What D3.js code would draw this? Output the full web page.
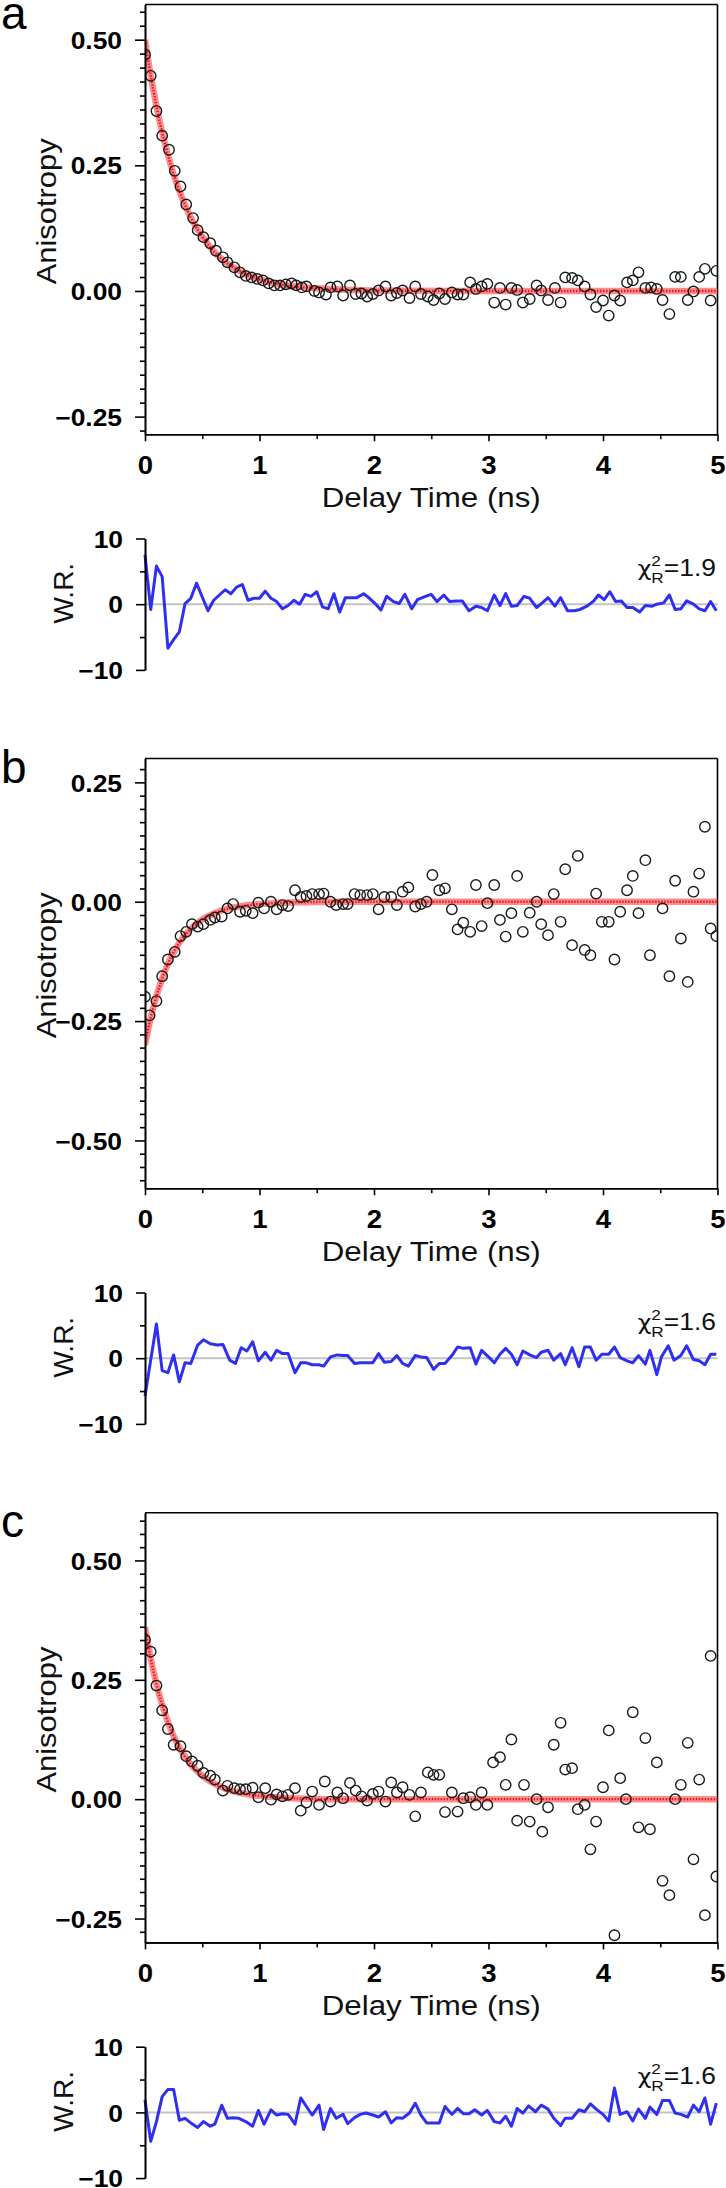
<!DOCTYPE html>
<html><head><meta charset="utf-8">
<script src="https://cdn.jsdelivr.net/npm/d3@7"></script>
<style>body{margin:0;background:#fff}svg{display:block}</style>
</head><body>
<svg id="chart" width="726" height="2188"></svg>
<script>
// ---------- DATA ----------
const panelLetters = ["a", "b", "c"];
const chiValues = ["1.9", "1.6", "1.6"];
const xTickValues = [0, 1, 2, 3, 4, 5];
const xMinorTicks = [0.5, 1.5, 2.5, 3.5, 4.5];
const yTicksA = [-0.25, 0, 0.25, 0.5];
const yTicksB = [-0.5, -0.25, 0, 0.25];
const yTicksC = [-0.25, 0, 0.25, 0.5];
const wrTicks = [-10, 0, 10];
const wrMinor = [-5, 5];

const timeA = [0,0.05,0.10,0.15,0.21,0.26,0.31,0.36,0.42,0.46,0.51,0.57,0.62,0.68,0.72,0.78,0.83,0.88,0.93,0.98,1.03,1.08,1.13,1.18,1.23,1.28,1.32,1.37,1.41,1.48,1.52,1.58,1.62,1.68,1.73,1.79,1.84,1.89,1.94,1.99,2.04,2.10,2.15,2.20,2.25,2.31,2.36,2.41,2.47,2.52,2.57,2.62,2.68,2.73,2.78,2.84,2.89,2.94,2.99,3.05,3.10,3.15,3.20,3.25,3.30,3.36,3.42,3.46,3.52,3.58,3.63,3.67,3.73,3.78,3.84,3.89,3.94,4.00,4.05,4.10,4.15,4.21,4.26,4.31,4.37,4.42,4.47,4.52,4.58,4.63,4.68,4.74,4.79,4.84,4.89,4.94,4.99];
const anisoA = [0.47,0.428,0.358,0.309,0.281,0.239,0.208,0.172,0.145,0.121,0.107,0.095,0.080,0.067,0.057,0.047,0.037,0.030,0.027,0.024,0.021,0.015,0.011,0.011,0.013,0.015,0.011,0.007,0.009,0.000,-0.003,-0.007,0.007,0.009,-0.009,0.011,-0.006,-0.005,-0.011,-0.006,0.001,0.009,-0.009,-0.004,0.001,-0.014,0.009,-0.006,-0.011,-0.018,-0.005,-0.016,-0.003,-0.007,-0.007,0.017,0.004,0.009,0.014,-0.023,0.006,-0.027,0.006,0.002,-0.023,-0.016,0.011,0.001,-0.018,0.006,-0.023,0.027,0.026,0.021,0.009,-0.007,-0.032,-0.019,-0.049,-0.009,-0.019,0.017,0.021,0.037,0.006,0.007,0.004,-0.018,-0.046,0.028,0.028,-0.018,-0.001,0.028,0.044,-0.019,0.040];

const timeB = [0,0.04,0.10,0.15,0.20,0.26,0.31,0.36,0.41,0.46,0.51,0.57,0.61,0.67,0.72,0.77,0.83,0.88,0.94,0.99,1.04,1.10,1.15,1.20,1.25,1.31,1.36,1.41,1.46,1.52,1.56,1.62,1.67,1.73,1.77,1.83,1.88,1.94,1.99,2.04,2.09,2.15,2.20,2.25,2.30,2.36,2.41,2.46,2.51,2.57,2.62,2.68,2.73,2.78,2.84,2.89,2.94,2.99,3.05,3.10,3.15,3.20,3.25,3.30,3.36,3.42,3.46,3.52,3.57,3.63,3.67,3.73,3.78,3.84,3.89,3.94,3.99,4.05,4.10,4.15,4.21,4.26,4.31,4.37,4.41,4.52,4.58,4.63,4.68,4.74,4.79,4.84,4.89,4.94,4.99];
const anisoB = [-0.199,-0.238,-0.208,-0.156,-0.121,-0.105,-0.072,-0.063,-0.047,-0.052,-0.047,-0.038,-0.033,-0.031,-0.014,-0.005,-0.021,-0.019,-0.024,-0.002,-0.014,0.000,-0.016,-0.007,-0.009,0.024,0.010,0.012,0.016,0.016,0.017,0.000,-0.007,-0.005,-0.005,0.016,0.014,0.014,0.016,-0.016,0.010,0.010,-0.007,0.021,0.030,-0.010,-0.005,0.000,0.056,0.024,0.028,-0.016,-0.058,-0.044,-0.063,0.035,-0.051,-0.003,0.035,-0.038,-0.073,-0.024,0.054,-0.063,-0.023,0.000,-0.047,-0.070,0.016,-0.042,0.068,-0.091,0.096,-0.101,-0.112,0.017,-0.042,-0.042,-0.121,-0.021,0.024,0.054,-0.024,0.087,-0.112,-0.014,-0.156,0.044,-0.077,-0.168,0.021,0.059,0.157,-0.056,-0.072];

const timeC = [0,0.05,0.10,0.15,0.20,0.25,0.31,0.36,0.41,0.46,0.51,0.57,0.61,0.68,0.72,0.78,0.83,0.88,0.94,0.99,1.05,1.10,1.15,1.20,1.25,1.31,1.36,1.41,1.46,1.52,1.57,1.62,1.68,1.73,1.79,1.84,1.89,1.94,1.99,2.04,2.10,2.15,2.20,2.25,2.31,2.36,2.41,2.47,2.52,2.57,2.62,2.68,2.73,2.78,2.84,2.89,2.94,2.99,3.04,3.10,3.15,3.20,3.25,3.31,3.36,3.42,3.47,3.52,3.57,3.63,3.67,3.73,3.78,3.84,3.89,3.94,4.00,4.05,4.10,4.15,4.20,4.26,4.31,4.37,4.41,4.47,4.52,4.58,4.63,4.68,4.74,4.79,4.84,4.89,4.94,4.99];
const anisoC = [0.334,0.309,0.238,0.186,0.147,0.114,0.111,0.090,0.079,0.070,0.055,0.049,0.041,0.018,0.028,0.023,0.021,0.021,0.024,0.004,0.023,-0.001,0.010,0.006,0.009,0.023,-0.024,-0.007,0.016,-0.012,0.037,-0.005,0.014,0.002,0.034,0.018,0.006,-0.003,0.011,0.016,-0.005,0.035,0.014,0.025,0.009,-0.036,0.014,0.056,0.051,0.051,-0.027,0.014,-0.026,0.002,0.004,-0.012,0.014,-0.012,0.077,0.088,0.030,0.125,-0.045,0.030,-0.047,0.000,-0.068,-0.017,0.114,0.160,0.062,0.065,-0.021,-0.012,-0.105,-0.047,0.025,0.144,-0.285,0.044,0.000,0.182,-0.059,0.128,-0.063,0.077,-0.171,-0.201,0.000,0.030,0.118,-0.126,0.041,-0.243,0.300,-0.162];

const fitTime = [0,0.05,0.10,0.15,0.20,0.25,0.30,0.35,0.40,0.45,0.50,0.55,0.60,0.65,0.70,0.75,0.80,0.85,0.90,0.95,1.00,1.2,1.4,1.6,1.8,2.0,3.0,4.0,5.0];
const fitA = [0.500,0.429,0.368,0.316,0.271,0.232,0.199,0.171,0.146,0.126,0.108,0.093,0.079,0.068,0.058,0.050,0.043,0.037,0.031,0.027,0.023,0.012,0.007,0.004,0.002,0.001,0,0,0];
const fitB = [-0.300,-0.243,-0.198,-0.161,-0.130,-0.106,-0.086,-0.070,-0.057,-0.046,-0.037,-0.030,-0.025,-0.020,-0.016,-0.013,-0.011,-0.009,-0.007,-0.006,-0.005,-0.002,-0.001,0,0,0,0,0,0];
const fitC = [0.360,0.295,0.241,0.198,0.162,0.132,0.108,0.089,0.073,0.060,0.049,0.040,0.033,0.027,0.022,0.018,0.015,0.012,0.010,0.008,0.007,0.003,0.001,0,0,0,0,0,0];

const resTimeA = [0,0.05,0.10,0.15,0.20,0.25,0.30,0.35,0.40,0.45,0.50,0.55,0.60,0.65,0.70,0.75,0.80,0.85,0.90,0.95,1.00,1.05,1.10,1.15,1.20,1.25,1.30,1.35,1.40,1.45,1.50,1.55,1.60,1.65,1.70,1.75,1.85,1.91,1.96,2.01,2.06,2.11,2.17,2.22,2.27,2.33,2.38,2.45,2.50,2.55,2.61,2.66,2.72,2.77,2.83,2.89,2.94,2.99,3.05,3.10,3.15,3.20,3.25,3.31,3.36,3.42,3.47,3.52,3.58,3.63,3.69,3.75,3.80,3.86,3.92,3.96,4.01,4.06,4.11,4.16,4.21,4.26,4.32,4.37,4.43,4.47,4.53,4.58,4.63,4.68,4.73,4.79,4.84,4.89,4.94,4.99];
const resA = [7.5,-0.8,5.8,4.2,-6.7,-5.4,-4.2,0.1,0.9,3.2,1.1,-1.0,0.6,1.4,2.2,1.6,2.6,3.0,0.6,0.9,0.9,2.0,0.9,0.4,-0.7,-0.2,0.6,0.0,1.5,1.2,1.9,-0.4,-0.7,1.6,-1.2,1.0,1.0,1.6,0.9,0.1,-0.9,1.2,0.4,0.1,1.5,-0.7,0.7,1.2,1.5,0.4,1.4,0.4,0.5,0.5,-1.0,-0.3,-0.5,-1.0,1.4,-0.2,1.6,-0.3,-0.2,1.2,0.9,-0.5,0.2,1.0,-0.3,1.0,-1.0,-1.0,-0.8,-0.3,0.5,1.4,0.7,1.9,0.4,0.5,-0.5,-0.5,-1.2,-0.2,-0.3,0.0,0.2,1.4,-0.8,-0.7,0.5,0.0,-0.7,-1.0,0.4,-1.0];

const resTimeB = [0,0.10,0.15,0.20,0.25,0.30,0.35,0.40,0.46,0.51,0.57,0.63,0.68,0.74,0.79,0.84,0.89,0.94,0.99,1.05,1.10,1.15,1.20,1.25,1.31,1.36,1.41,1.46,1.52,1.56,1.62,1.68,1.73,1.77,1.83,1.88,1.93,1.99,2.04,2.09,2.15,2.20,2.25,2.30,2.36,2.41,2.46,2.52,2.57,2.62,2.68,2.73,2.78,2.84,2.89,2.94,3.00,3.05,3.10,3.15,3.20,3.25,3.30,3.36,3.42,3.46,3.52,3.57,3.63,3.67,3.73,3.79,3.84,3.89,3.94,3.99,4.05,4.10,4.15,4.21,4.26,4.31,4.37,4.41,4.47,4.51,4.57,4.62,4.68,4.73,4.79,4.84,4.89,4.94,4.99];
const resB = [-5.75,5.2,-1.9,-2.2,0.5,-3.6,-0.7,-0.8,2.0,2.8,2.2,2.0,2.1,-0.3,-0.8,1.6,1.1,2.5,-0.4,0.9,-0.3,1.2,0.7,0.7,-2.2,-0.7,-0.7,-1.0,-1.0,-1.2,0.2,0.5,0.4,0.4,-0.8,-0.7,-0.7,-0.7,0.7,-0.6,-0.5,0.4,-0.8,-1.2,0.4,0.2,0.1,-1.7,-0.8,-0.8,0.4,1.7,1.5,1.6,-0.9,1.2,0.2,-0.7,0.6,1.5,0.6,-1.0,1.1,0.5,0.1,0.9,1.2,-0.3,0.7,-1.0,1.6,-1.3,1.7,1.7,-0.3,0.6,0.6,1.7,0.1,-0.4,-0.7,0.4,-0.9,1.2,-2.5,0.2,1.9,-0.3,0.4,1.9,-0.2,-0.4,-1.0,0.6,0.6];

const resTimeC = [0,0.05,0.10,0.15,0.20,0.25,0.30,0.35,0.40,0.46,0.51,0.57,0.61,0.67,0.72,0.77,0.82,0.88,0.94,0.99,1.04,1.10,1.15,1.20,1.25,1.31,1.36,1.41,1.46,1.52,1.56,1.62,1.67,1.73,1.77,1.83,1.88,1.93,1.99,2.04,2.10,2.15,2.20,2.25,2.31,2.36,2.41,2.46,2.51,2.57,2.62,2.68,2.73,2.78,2.83,2.88,2.94,2.99,3.05,3.10,3.15,3.20,3.25,3.30,3.35,3.41,3.46,3.52,3.57,3.63,3.67,3.73,3.79,3.84,3.89,3.94,4.00,4.05,4.10,4.15,4.21,4.26,4.31,4.37,4.41,4.47,4.52,4.58,4.63,4.68,4.74,4.79,4.84,4.89,4.94,4.99];
const resC = [1.9,-4.4,-1.4,2.4,3.5,3.5,-1.2,-0.9,-1.6,-2.3,-1.4,-2.1,-1.8,1.1,-0.9,-0.8,-0.9,-1.4,-2.1,0.3,-1.8,0.4,-0.4,-0.2,-0.3,-1.8,2.2,0.9,-0.4,1.1,-2.6,0.6,-0.9,-0.3,-1.7,-0.8,-0.3,-0.1,-0.4,-0.7,0.1,-1.6,-0.8,-0.9,-0.1,1.4,-0.4,-1.6,-1.6,-1.6,0.9,-0.3,0.6,-0.2,-0.2,0.4,-0.4,0.3,-1.4,-1.6,-0.6,-2.1,0.6,-0.1,1.0,0.1,1.1,0.5,-0.9,-2.0,-0.9,-0.9,0.4,0.1,1.3,0.5,-0.3,-1.3,3.7,-0.3,0.1,-1.3,0.5,-0.9,0.8,-0.3,1.8,1.8,-0.1,-0.3,-0.7,1.1,0.1,2.2,-1.8,1.4];

const yDomains = [[-0.285, 0.57], [-0.6, 0.3], [-0.3, 0.6]];

// ---------- layout ----------
const panels = [
  {letter: panelLetters[0], t: timeA, v: anisoA, fit: fitA, rt: resTimeA, r: resA, yd: yDomains[0], ticks: yTicksA, chi: chiValues[0]},
  {letter: panelLetters[1], t: timeB, v: anisoB, fit: fitB, rt: resTimeB, r: resB, yd: yDomains[1], ticks: yTicksB, chi: chiValues[1]},
  {letter: panelLetters[2], t: timeC, v: anisoC, fit: fitC, rt: resTimeC, r: resC, yd: yDomains[2], ticks: yTicksC, chi: chiValues[2]}
];
const X0 = 145, X1 = 717.5, PH = 429.7;
const tops = [4.5, 758.5, 1512.7];
const FONT = "'Liberation Sans', Arial, Helvetica, sans-serif";
const svg = d3.select("#chart");
const x = d3.scaleLinear().domain([0, 5]).range([X0, X1]);
const fmt2 = d3.format(".2f");

function styleAxis(g, sw) {
  g.attr("font-family", null).attr("font-size", null);
  g.selectAll("path.domain").attr("stroke", "#000").attr("stroke-width", sw);
  g.selectAll(".tick line").attr("stroke", "#000").attr("stroke-width", sw);
}

panels.forEach((p, i) => {
  const top = tops[i], bot = top + PH;
  const y = d3.scaleLinear().domain(p.yd).range([bot, top]);
  const g = svg.append("g");
  const clipId = "clip" + i;
  svg.append("defs").append("clipPath").attr("id", clipId)
    .append("rect").attr("x", X0).attr("y", top).attr("width", X1 - X0).attr("height", PH);

  // panel letter
  g.append("text").attr("x", 1).attr("y", top + 24).attr("font-family", FONT)
    .attr("font-size", 46).attr("fill", "#000").text(p.letter);

  // frame top & right
  g.append("line").attr("x1", X0).attr("x2", X1).attr("y1", top).attr("y2", top)
    .attr("stroke", "#000").attr("stroke-width", 1.6);
  g.append("line").attr("x1", X1).attr("x2", X1).attr("y1", top).attr("y2", bot)
    .attr("stroke", "#000").attr("stroke-width", 1.6);

  const plot = g.append("g").attr("clip-path", `url(#${clipId})`);
  const fitData = fitTime.map((t, k) => [t, p.fit[k]]);
  const fitLine = d3.line().x(d => x(d[0])).y(d => y(d[1])).curve(d3.curveMonotoneX);
  plot.append("path").attr("d", fitLine(fitData)).attr("fill", "none")
    .attr("stroke", "#ff5c5c").attr("stroke-opacity", 0.7).attr("stroke-width", 6.5);
  plot.append("path").attr("d", fitLine(fitData)).attr("fill", "none")
    .attr("stroke", "#e8141c").attr("stroke-width", 2.4).attr("stroke-dasharray", "1.4,1.6");

  plot.selectAll("circle.pt").data(p.t.map((t, k) => [t, p.v[k]])).enter()
    .append("circle").attr("class", "pt")
    .attr("cx", d => x(d[0])).attr("cy", d => y(d[1])).attr("r", 5.2)
    .attr("fill", "none").attr("stroke", "#1a1a1a").attr("stroke-width", 1.4);

  // y axis
  const yMinor = [];
  for (let k = -60; k <= 60; k++) {
    const v = k * 0.25 / 9;
    if (v >= p.yd[0] - 1e-9 && v <= p.yd[1] + 1e-9 && Math.abs(k % 9) !== 0) yMinor.push(v);
  }
  const gyMin = g.append("g").attr("transform", `translate(${X0},0)`)
    .call(d3.axisLeft(y).tickValues(yMinor).tickSize(5).tickSizeOuter(0).tickFormat(""));
  styleAxis(gyMin, 1.6);
  const gy = g.append("g").attr("transform", `translate(${X0},0)`)
    .call(d3.axisLeft(y).tickValues(p.ticks).tickSize(10).tickSizeOuter(0).tickFormat(fmt2));
  styleAxis(gy, 1.6);
  gy.selectAll(".tick text").attr("x", 0).attr("dy", "0.36em")
    .attr("transform", "translate(-23,0) scale(1.1,1)")
    .attr("font-family", FONT).attr("font-weight", "bold").attr("font-size", 24).attr("fill", "#000");

  // x axis
  const gxMin = g.append("g").attr("transform", `translate(0,${bot})`)
    .call(d3.axisBottom(x).tickValues(xMinorTicks).tickSize(5).tickSizeOuter(0).tickFormat(""));
  styleAxis(gxMin, 1.6);
  const gx = g.append("g").attr("transform", `translate(0,${bot})`)
    .call(d3.axisBottom(x).tickValues(xTickValues).tickSize(7).tickSizeOuter(0).tickFormat(d3.format("d")));
  styleAxis(gx, 1.6);
  gx.selectAll(".tick text").attr("y", 0).attr("dy", 0)
    .attr("transform", "translate(0,40) scale(1.1,1)")
    .attr("font-family", FONT).attr("font-weight", "bold").attr("font-size", 25).attr("fill", "#000");

  // axis titles
  g.append("text").attr("text-anchor", "middle")
    .attr("transform", `translate(56,${(top + bot) / 2 - 8}) rotate(-90)`)
    .attr("font-family", FONT).attr("font-size", 28).attr("fill", "#111")
    .attr("textLength", 146).attr("lengthAdjust", "spacingAndGlyphs").text("Anisotropy");
  g.append("text").attr("text-anchor", "middle").attr("x", x(2.5)).attr("y", bot + 73)
    .attr("font-family", FONT).attr("font-size", 27).attr("fill", "#111")
    .attr("textLength", 219).attr("lengthAdjust", "spacingAndGlyphs").text("Delay Time (ns)");

  // residual panel
  const zero = bot + 170;
  const yr = d3.scaleLinear().domain([-10, 10]).range([zero + 65.7, zero - 65.7]);
  g.append("line").attr("x1", X0).attr("x2", X1).attr("y1", yr(0)).attr("y2", yr(0))
    .attr("stroke", "#c4c4c4").attr("stroke-width", 2);
  const resLine = d3.line().x(d => x(d[0])).y(d => yr(d[1]));
  g.append("path").attr("d", resLine(p.rt.map((t, k) => [t, p.r[k]])))
    .attr("fill", "none").attr("stroke", "#2f2ff0").attr("stroke-width", 3)
    .attr("stroke-linejoin", "round");
  const grMin = g.append("g").attr("transform", `translate(${X0},0)`)
    .call(d3.axisLeft(yr).tickValues(wrMinor).tickSize(5).tickSizeOuter(0).tickFormat(""));
  styleAxis(grMin, 1.6);
  const gr = g.append("g").attr("transform", `translate(${X0},0)`)
    .call(d3.axisLeft(yr).tickValues(wrTicks).tickSize(9).tickSizeOuter(0).tickFormat(d3.format("d")));
  styleAxis(gr, 1.6);
  gr.selectAll(".tick text").attr("x", 0).attr("dy", "0.36em")
    .attr("transform", "translate(-22,0) scale(1.1,1)")
    .attr("font-family", FONT).attr("font-weight", "bold").attr("font-size", 24).attr("fill", "#000");

  g.append("text").attr("text-anchor", "middle")
    .attr("transform", `translate(73,${zero - 11}) rotate(-90)`)
    .attr("font-family", FONT).attr("font-size", 28).attr("fill", "#111").text("W.R.");

  const ct = g.append("text").attr("text-anchor", "end")
    .attr("transform", `translate(716,${zero - 28}) scale(1.15,1)`)
    .attr("font-family", FONT).attr("font-size", 23).attr("fill", "#111");
  ct.append("tspan").attr("font-family", "'DejaVu Sans', sans-serif").attr("font-size", 21).text("χ");
  ct.append("tspan").attr("font-size", 15).attr("dy", -10).text("2");
  ct.append("tspan").attr("font-size", 15).attr("dx", -8.3).attr("dy", 17).text("R");
  ct.append("tspan").attr("dy", -7).text("=" + p.chi);
});
</script>
</body></html>
